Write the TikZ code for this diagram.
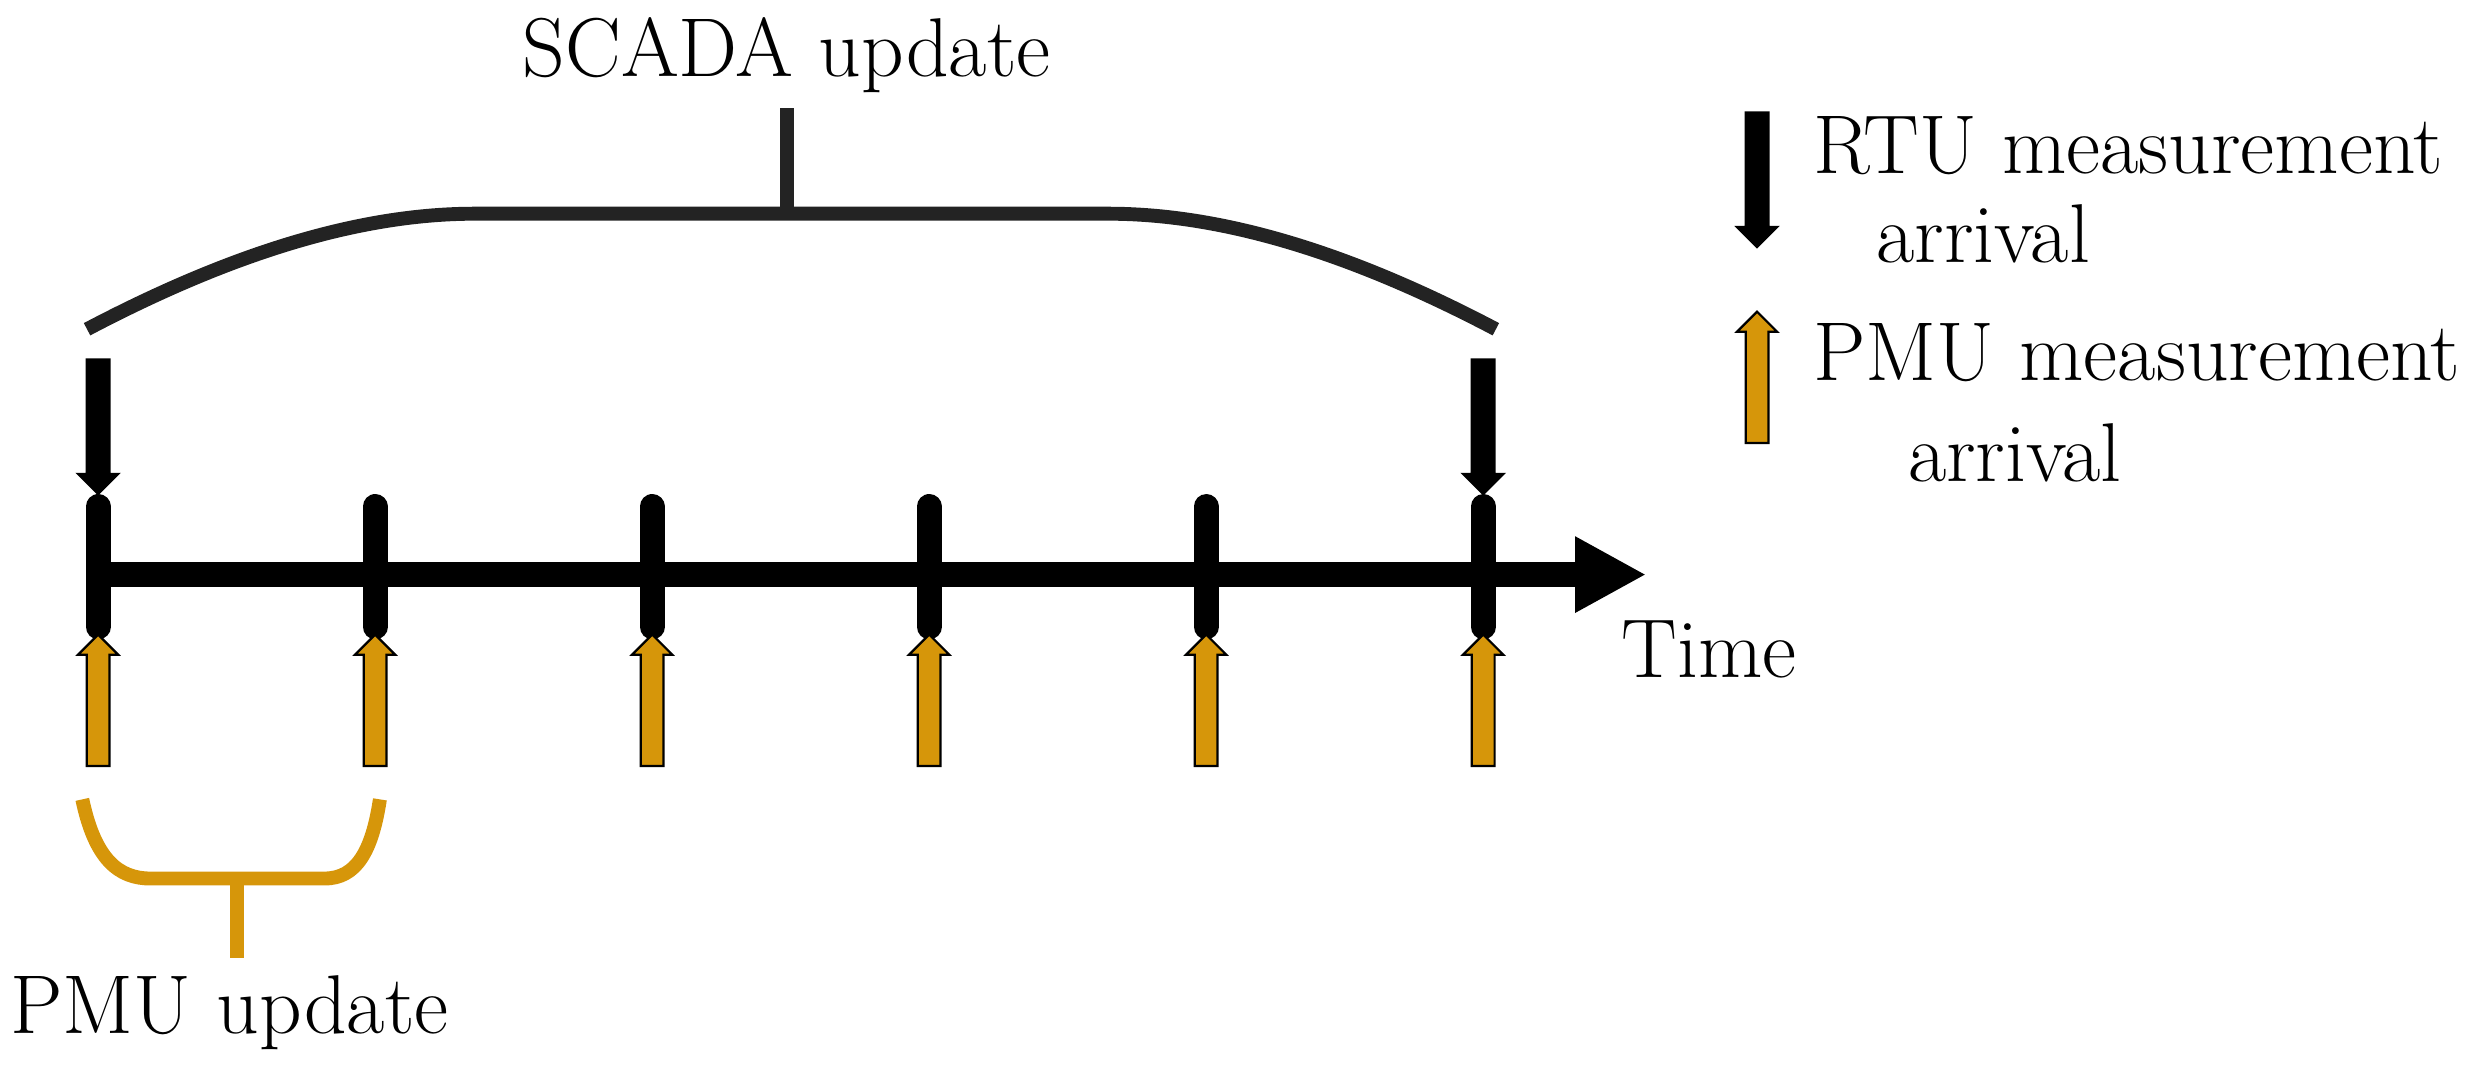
\documentclass[tikz,border=0pt]{standalone}
\usetikzlibrary{shapes.arrows,arrows.meta}
\definecolor{pmuorange}{RGB}{214,150,10}
\definecolor{bracegray}{RGB}{35,35,35}
\begin{document}
\begin{tikzpicture}[font=\fontsize{15}{18}\selectfont,
    blk arrow/.style={single arrow,draw=black,line width=0.4pt,inner xsep=0pt,inner ysep=0.065cm,
        minimum width=0.24cm,single arrow head extend=0.055cm,single arrow head indent=0pt},
    rtu arrow/.style={blk arrow,fill=black,minimum height=0.85cm,rotate=-90},
    pmu arrow/.style={blk arrow,fill=pmuorange,minimum height=0.83cm,rotate=90},
    tick/.style={line width=4.5pt,line cap=round}]
    \useasboundingbox (0,0) rectangle (15.68,6.78);
    % time axis
    \coordinate (start) at (0.62,3.15);
    \coordinate (end) at (10.4,3.15);
    \draw[line width=4.5pt,-{Triangle[length=0.45cm,width=0.45cm]}] (start) -- (end);
    \node[anchor=west] (time) at (10.12,2.68) {Time};
    \foreach \i/\x in {0/0.62,1/2.37,2/4.12,3/5.87,4/7.62,5/9.37}{
        \draw[tick] (\x,2.82) -- (\x,3.58);
        \node[pmu arrow] (pmu\i) at (\x,2.32) {};
    }
    \node[rtu arrow] (rtu0) at (0.62,4.12) {};
    \node[rtu arrow] (rtu1) at (9.37,4.12) {};
    % SCADA brace
    \draw[bracegray,line width=2.5pt] (0.55,4.7) .. controls (1.5,5.2) and (2.3,5.43) .. (3.0,5.43)
        -- (7.0,5.43) .. controls (7.7,5.43) and (8.5,5.2) .. (9.45,4.7);
    \coordinate (scadatop) at (4.97,6.1);
    \draw[bracegray,line width=2.5pt] (4.97,5.43) -- (scadatop);
    \node (scada) at (4.97,6.43) {SCADA update};
    % PMU brace
    \draw[pmuorange,line width=2.5pt] (0.52,1.73) .. controls (0.6,1.35) and (0.75,1.23) .. (0.95,1.23)
        -- (2.05,1.23) .. controls (2.25,1.23) and (2.35,1.4) .. (2.4,1.73);
    \coordinate (pmubot) at (1.5,0.73);
    \draw[pmuorange,line width=2.5pt] (1.5,1.23) -- (pmubot);
    \node (pmuupd) at (1.45,0.38) {PMU update};
    % legend
    \node[rtu arrow] (leg rtu) at (11.1,5.68) {};
    \node[anchor=west] (rtu1l) at (11.33,5.86) {RTU measurement};
    \node[anchor=west] (rtu2l) at (11.73,5.3) {arrival};
    \node[pmu arrow] (leg pmu) at (11.1,4.36) {};
    \node[anchor=west] (pmu1l) at (11.33,4.55) {PMU measurement};
    \node[anchor=west] (pmu2l) at (11.93,3.92) {arrival};
\end{tikzpicture}
\end{document}
